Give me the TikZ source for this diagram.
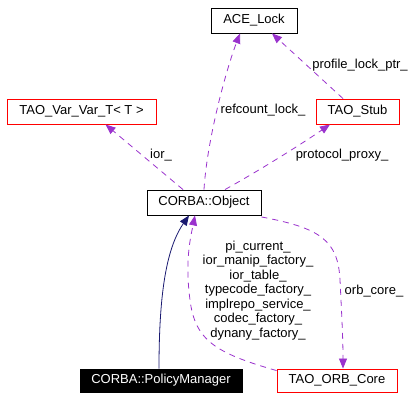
\documentclass[tikz,border=0pt]{standalone}
\usepackage{fontspec}
\setmainfont{Liberation Sans}
\usetikzlibrary{arrows.meta,calc}
\definecolor{edgepurple}{HTML}{9A32CD}
\definecolor{edgenavy}{HTML}{191970}
\tikzset{
  box/.style={draw, line width=0.9pt, inner sep=0pt, minimum height=25pt, font=\fontsize{13}{14.5}\selectfont, align=center},
  redbox/.style={box, draw=red},
  blackbox/.style={box, draw=black},
  darkbox/.style={box, fill=black, draw=black, text=white},
  usage/.style={draw=edgepurple, line width=0.8pt, dash pattern=on 6pt off 5pt, -{Triangle[length=10pt,width=8pt,fill=edgepurple]}},
  inherit/.style={draw=edgenavy, line width=0.8pt, -{Triangle[length=10pt,width=8pt,fill=edgenavy]}},
  lbl/.style={font=\fontsize{13}{14.5}\selectfont, inner sep=0pt, align=center}
}
\begin{document}
\begin{tikzpicture}[x=1pt,y=-1pt]
\useasboundingbox (0,0) rectangle (417,400);
\node[blackbox, minimum width=86pt] (ace) at (254,20.5) {ACE\_Lock};
\node[redbox, minimum width=149pt] (var) at (81.5,111.5) {TAO\_Var\_Var\_T< T >};
\node[redbox, minimum width=83pt] (stub) at (357.5,111.5) {TAO\_Stub};
\node[blackbox, minimum width=114pt] (obj) at (204,202.5) {CORBA::Object};
\node[darkbox, minimum width=162pt, minimum height=23pt] (pm) at (161,380.5) {CORBA::PolicyManager};
\node[redbox, minimum width=120pt, minimum height=23pt] (orb) at (337,380.5) {TAO\_ORB\_Core};

% ior_
\draw[usage] ([xshift=-21pt]obj.north) -- ([xshift=24pt]var.south);
\node[lbl] (l_ior) at (161,155) {ior\_};
% refcount_lock_
\draw[usage] (obj.north) .. controls (207,140) and (226,70) .. ([xshift=-14pt]ace.south);
\node[lbl] (l_ref) at (263,110) {refcount\_lock\_};
% protocol_proxy_
\draw[usage] ([xshift=21pt]obj.north) .. controls (260,170) and (300,145) .. ([xshift=-27.5pt]stub.south);
\node[lbl] (l_pp) at (342,155) {protocol\_proxy\_};
% profile_lock_ptr_
\draw[usage] ([xshift=-14.5pt]stub.north) -- ([xshift=18pt]ace.south);
\node[lbl] (l_plp) at (360,65) {profile\_lock\_ptr\_};
% orb_core_
\draw[usage] ([yshift=-1.5pt]obj.south east) .. controls (320,228) and (338,240) .. (340,280) .. controls (342,320) and (343,340) .. ([xshift=6pt]orb.north);
\node[lbl] (l_orb) at (374,291) {orb\_core\_};
% ORB_Core -> Object
\draw[usage] ([yshift=-2pt]orb.north west) .. controls (215,353) and (195,340) .. (190,300) .. controls (185,262) and (190,240) .. ([xshift=-9pt]obj.south);
\node[lbl] (l_multi) at (258,290.5) {pi\_current\_\\ior\_manip\_factory\_\\ior\_table\_\\typecode\_factory\_\\implrepo\_service\_\\codec\_factory\_\\dynany\_factory\_};
% PolicyManager -> Object
\draw[inherit] ([xshift=-2pt]pm.north) .. controls (159,300) and (165,250) .. ([xshift=-15pt]obj.south);
\end{tikzpicture}
\end{document}
